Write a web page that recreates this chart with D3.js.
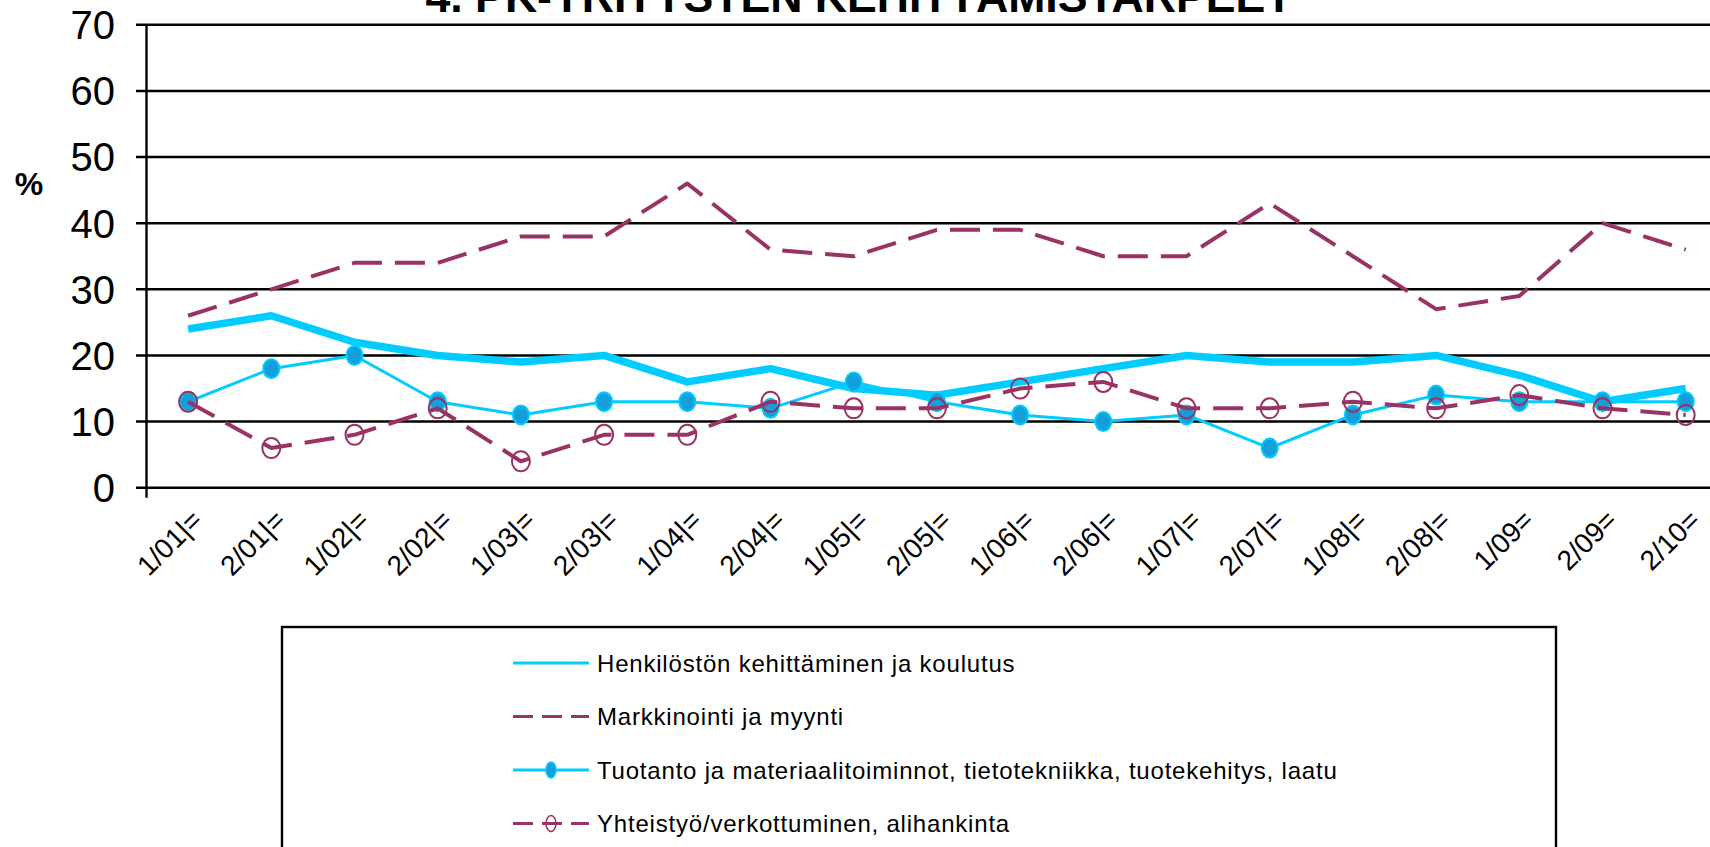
<!DOCTYPE html>
<html>
<head>
<meta charset="utf-8">
<script src="https://cdn.jsdelivr.net/npm/d3@7/dist/d3.min.js"></script>
<style>
	body { margin: 0; background: #fff; overflow: hidden; }
	svg { display: block; font-family: "Liberation Sans", Arial, sans-serif; }
</style>
</head>
<body>
<svg width="1710" height="847"></svg>
<script>
var categories = ["1/01|=", "2/01|=", "1/02|=", "2/02|=", "1/03|=", "2/03|=", "1/04|=", "2/04|=", "1/05|=", "2/05|=",
	"1/06|=", "2/06|=", "1/07|=", "2/07|=", "1/08|=", "2/08|=", "1/09=", "2/09=", "2/10="]

var henkilosto   = [24, 26, 22, 20, 19, 20, 16, 18, 15, 14, 16, 18, 20, 19, 19, 20, 17, 13, 15]
var markkinointi = [26, 30, 34, 34, 38, 38, 46, 36, 35, 39, 39, 35, 35, 43, 35, 27, 29, 40, 36]
var tuotanto     = [13, 18, 20, 13, 11, 13, 13, 12, 16, 13, 11, 10, 11,  6, 11, 14, 13, 13, 13]
var yhteistyo    = [13,  6,  8, 12,  4,  8,  8, 13, 12, 12, 15, 16, 12, 12, 13, 12, 14, 12, 11]

var yTicks = [0, 10, 20, 30, 40, 50, 60, 70]

var seriesNames = [
	"Henkilöstön kehittäminen ja koulutus",
	"Markkinointi ja myynti",
	"Tuotanto ja materiaalitoiminnot, tietotekniikka, tuotekehitys, laatu",
	"Yhteistyö/verkottuminen, alihankinta"
]

var title = "4. PK-YRITYSTEN KEHITTÄMISTARPEET"

var cyan = "#00ccff", maroon = "#993366", dotFill = "#129fda"

var series = [
	{name: seriesNames[0], values: henkilosto,   color: cyan,   width: 7.5, dash: null,    marker: null},
	{name: seriesNames[1], values: markkinointi, color: maroon, width: 4,   dash: "30,13", marker: null},
	{name: seriesNames[2], values: tuotanto,     color: cyan,   width: 3,   dash: null,    marker: "dot"},
	{name: seriesNames[3], values: yhteistyo,    color: maroon, width: 4,   dash: "30,13", marker: "ring"}
]

var svg = d3.select("svg")

var x = d3.scaleBand()
	.domain(categories)
	.range([146.5, 146.5 + categories.length * 83.2])

var y = d3.scaleLinear()
	.domain([0, 70])
	.range([487.7, 24.8])

function cx(i){ return x(categories[i]) + x.bandwidth() / 2 }

// gridlines + ticks
svg.append("g").selectAll("line")
		.data(yTicks)
	.enter().append("line")
		.attr("x1", 136)
		.attr("x2", 1710)
		.attr("y1", function(d){ return y(d) })
		.attr("y2", function(d){ return y(d) })
		.attr("stroke", "#000")
		.attr("stroke-width", 2.4)

svg.append("line")
	.attr("x1", x.range()[0])
	.attr("x2", x.range()[0])
	.attr("y1", y(70))
	.attr("y2", y(0) + 10)
	.attr("stroke", "#000")
	.attr("stroke-width", 2.4)

svg.append("g").selectAll("text")
		.data(yTicks)
	.enter().append("text")
		.attr("x", 115)
		.attr("y", function(d){ return y(d) })
		.attr("dy", "0.36em")
		.attr("text-anchor", "end")
		.attr("font-size", 40)
		.text(function(d){ return d })

svg.append("text")
	.attr("x", 29)
	.attr("y", 195)
	.attr("text-anchor", "middle")
	.attr("font-size", 32)
	.attr("font-weight", "bold")
	.text("%")

// category labels, rotated, ending right of the point
svg.append("g").selectAll("text")
		.data(categories)
	.enter().append("text")
		.attr("text-anchor", "end")
		.attr("font-size", 28)
		.attr("transform", function(d, i){ return "translate(" + (cx(i) + 16) + ",522) rotate(-45)" })
		.text(function(d){ return d })

// title (top is cut off by the page edge)
svg.append("text")
	.attr("x", 859)
	.attr("y", 12)
	.attr("text-anchor", "middle")
	.attr("font-size", 44)
	.attr("font-weight", "bold")
	.attr("textLength", 867)
	.attr("lengthAdjust", "spacingAndGlyphs")
	.text(title)

var line = d3.line()
	.x(function(d, i){ return cx(i) })
	.y(function(d){ return y(d) })

series.forEach(function(s){
	var g = svg.append("g")
	g.append("path")
		.datum(s.values)
		.attr("d", line)
		.attr("fill", "none")
		.attr("stroke", s.color)
		.attr("stroke-width", s.width)
		.attr("stroke-dasharray", s.dash)
		.attr("stroke-linejoin", "round")

	if (s.marker == "dot") {
		g.selectAll("ellipse")
				.data(s.values)
			.enter().append("ellipse")
				.attr("cx", function(d, i){ return cx(i) })
				.attr("cy", function(d){ return y(d) })
				.attr("rx", 8)
				.attr("ry", 9.5)
				.attr("fill", dotFill)
				.attr("stroke", cyan)
				.attr("stroke-width", 2)
	}
	if (s.marker == "ring") {
		g.selectAll("ellipse")
				.data(s.values)
			.enter().append("ellipse")
				.attr("cx", function(d, i){ return cx(i) })
				.attr("cy", function(d){ return y(d) })
				.attr("rx", 9)
				.attr("ry", 10)
				.attr("fill", "none")
				.attr("stroke", maroon)
				.attr("stroke-width", 2)
	}
})

// legend
var legend = svg.append("g")

legend.append("rect")
	.attr("x", 282)
	.attr("y", 627)
	.attr("width", 1274)
	.attr("height", 260)
	.attr("fill", "#fff")
	.attr("stroke", "#000")
	.attr("stroke-width", 2.4)

var rows = legend.selectAll(".row")
		.data(series)
	.enter().append("g")
		.attr("class", "row")
		.attr("transform", function(d, i){ return "translate(0," + (663 + i * 53.5) + ")" })

rows.append("line")
	.attr("x1", 513)
	.attr("x2", 589)
	.attr("y1", 0)
	.attr("y2", 0)
	.attr("stroke", function(d){ return d.color })
	.attr("stroke-width", 3)
	.attr("stroke-dasharray", function(d){ return d.dash ? "20,9" : null })

rows.filter(function(d){ return d.marker == "dot" }).append("ellipse")
	.attr("cx", 551)
	.attr("rx", 5)
	.attr("ry", 8)
	.attr("fill", dotFill)
	.attr("stroke", cyan)
	.attr("stroke-width", 1.5)

rows.filter(function(d){ return d.marker == "ring" }).append("ellipse")
	.attr("cx", 551)
	.attr("rx", 5)
	.attr("ry", 8)
	.attr("fill", "none")
	.attr("stroke", maroon)
	.attr("stroke-width", 1.5)

rows.append("text")
	.attr("x", 597)
	.attr("dy", "0.36em")
	.attr("font-size", 24)
	.attr("letter-spacing", 0.8)
	.text(function(d){ return d.name })
</script>
</body>
</html>
